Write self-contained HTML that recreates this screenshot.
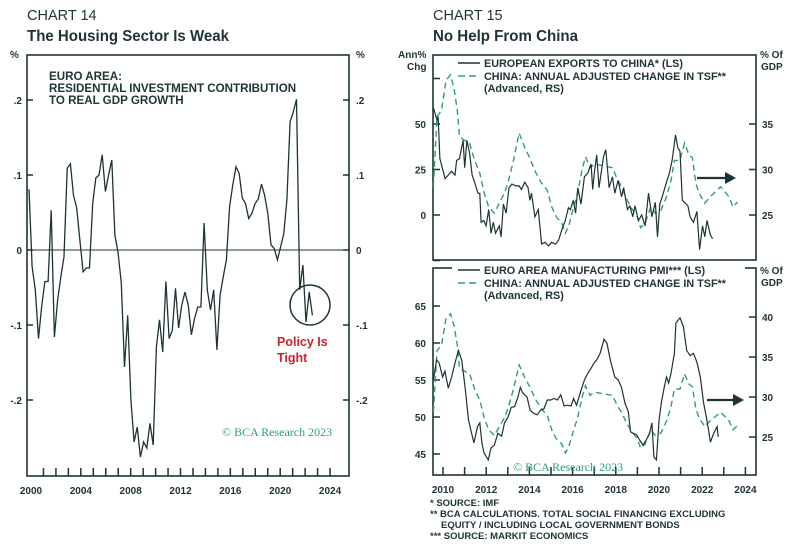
<!DOCTYPE html>
<html><head><meta charset="utf-8"><style>
body{margin:0;background:#fff;width:796px;height:546px;overflow:hidden}
svg{font-family:"Liberation Sans",sans-serif}
.tk{font-size:10px;font-weight:bold;fill:#1d3336}
.lg{font-size:10.8px;font-weight:bold;fill:#1d3336}
.an{font-size:11.6px;font-weight:bold;fill:#1d3336}
</style></head><body>
<svg id="c" width="796" height="546" viewBox="0 0 796 546">
<text x="27" y="20" font-size="14.5" fill="#1d3336">CHART 14</text>
<text x="27" y="41" font-size="16" font-weight="bold" fill="#1d3336" textLength="202" lengthAdjust="spacingAndGlyphs">The Housing Sector Is Weak</text>
<text x="433" y="20" font-size="14.5" fill="#1d3336">CHART 15</text>
<text x="433" y="41" font-size="16" font-weight="bold" fill="#1d3336" textLength="145" lengthAdjust="spacingAndGlyphs">No Help From China</text>
<g id="L"></g><g id="R1"></g><g id="R2"></g>
<text x="49" y="80" class="an">EURO AREA:</text>
<text x="49" y="92" class="an">RESIDENTIAL INVESTMENT CONTRIBUTION</text>
<text x="49" y="104" class="an">TO REAL GDP GROWTH</text>
<circle cx="310" cy="305" r="20" fill="none" stroke="#1d3336" stroke-width="1.5"/>
<text x="277" y="346" font-size="12.5" font-weight="bold" fill="#c8252f">Policy Is</text>
<text x="277" y="362" font-size="12.5" font-weight="bold" fill="#c8252f">Tight</text>
<text x="222" y="436" font-size="12" font-family="Liberation Serif,serif" fill="#2e9e7a">© BCA Research 2023</text>
<text x="513" y="471" font-size="12" font-family="Liberation Serif,serif" fill="#2e9e7a">© BCA Research 2023</text>
<text x="430" y="506" font-size="9.5" font-weight="bold" fill="#1d3336">*  SOURCE: IMF</text>
<text x="430" y="517" font-size="9.5" font-weight="bold" fill="#1d3336">** BCA CALCULATIONS. TOTAL SOCIAL FINANCING EXCLUDING</text>
<text x="441" y="528" font-size="9.5" font-weight="bold" fill="#1d3336">EQUITY / INCLUDING LOCAL GOVERNMENT BONDS</text>
<text x="430" y="539" font-size="9.5" font-weight="bold" fill="#1d3336">*** SOURCE: MARKIT ECONOMICS</text>
</svg>
<script>
const resInv=[0.081,-0.022,-0.053,-0.118,-0.075,-0.042,-0.042,0.053,-0.116,-0.067,-0.036,-0.009,0.109,0.115,0.073,0.056,0.013,-0.029,-0.024,-0.024,0.062,0.096,0.1,0.127,0.078,0.1,0.12,0.02,-0.004,-0.044,-0.156,-0.087,-0.2,-0.256,-0.236,-0.276,-0.256,-0.264,-0.231,-0.26,-0.129,-0.093,-0.136,-0.042,-0.118,-0.107,-0.051,-0.104,-0.073,-0.056,-0.073,-0.113,-0.091,-0.076,-0.076,0.036,-0.053,-0.08,-0.053,-0.133,-0.06,-0.036,-0.013,0.058,0.087,0.111,0.102,0.069,0.062,0.042,0.049,0.062,0.068,0.088,0.073,0.049,0.007,0.002,-0.013,0.004,0.022,0.067,0.171,0.184,0.201,-0.053,-0.02,-0.096,-0.056,-0.087];
const leftYTicks=[0.2,0.1,0,-0.1,-0.2];
const leftYLabels=[".2",".1","0","-.1","-.2"];
const leftXLabels=[2000,2004,2008,2012,2016,2020,2024];
const exYears=[2009.84,2010.0,2010.05,2010.13,2010.36,2010.5,2010.65,2010.8,2010.87,2011.0,2011.16,2011.23,2011.33,2011.45,2011.56,2011.67,2011.82,2011.9,2011.96,2012.08,2012.18,2012.3,2012.4,2012.5,2012.6,2012.77,2012.85,2012.95,2013.07,2013.2,2013.33,2013.5,2013.65,2013.75,2013.9,2014.05,2014.13,2014.2,2014.35,2014.5,2014.65,2014.8,2014.96,2015.1,2015.26,2015.4,2015.55,2015.7,2015.84,2015.93,2016.06,2016.16,2016.26,2016.4,2016.55,2016.7,2016.85,2016.92,2017.0,2017.1,2017.2,2017.4,2017.5,2017.65,2017.8,2017.9,2018.05,2018.2,2018.3,2018.46,2018.57,2018.7,2018.8,2018.95,2019.1,2019.25,2019.4,2019.55,2019.7,2019.8,2019.9,2020.06,2020.2,2020.33,2020.45,2020.6,2020.7,2020.8,2020.9,2021.0,2021.15,2021.25,2021.4,2021.55,2021.67,2021.8,2021.9,2022.0,2022.15,2022.25];
const exVals=[59,52,54,31,20,22,24,22,30,31,41,26,41,34,22,18,12,12,-4,-3,-6,3,-10,-4,-10,-6,-12,6,1,15,17,16,16,14,18,15,8,12,-1,3,-16,-15,-17,-15,-16,-14,-8,-3,4,3,8,1,15,6,21,23,28,14,24,33,15,32,36,15,21,12,19,10,15,3,5,-1,5,-3,0,-6,12,-1,7,-12,6,12,18,23,30,44,37,35,8,7,5,-1,-4,2,-19,-6,-12,-3,-11,-13];
const tsfYears=[2009.84,2010.0,2010.2,2010.4,2010.6,2010.75,2010.9,2011.0,2011.23,2011.45,2011.67,2011.9,2012.1,2012.3,2012.55,2012.77,2013.0,2013.2,2013.4,2013.65,2013.9,2014.1,2014.4,2014.65,2014.9,2015.1,2015.3,2015.55,2015.7,2015.85,2016.0,2016.25,2016.45,2016.6,2016.8,2017.0,2017.4,2017.8,2018.0,2018.2,2018.4,2018.6,2018.9,2019.05,2019.25,2019.5,2019.7,2019.95,2020.2,2020.4,2020.55,2020.8,2021.0,2021.2,2021.35,2021.5,2021.65,2021.9,2022.1,2022.35,2022.6,2022.85,2023.0,2023.15,2023.35];
const tsfVals=[28.1,35.8,36.5,39.8,40.4,39,36.5,33.6,33.2,32.9,31,29.6,27.4,25.9,25.2,26.3,27.4,29,31,34,32.4,31.4,29.6,28.5,27.7,25.9,24.8,24.1,23,23.7,25.2,27.4,30,31.4,30.2,30.6,30.4,30.2,29,28.1,26.9,25.9,24.8,23.6,24.1,25.9,25.2,25.5,27,28.8,31,31,32.9,31.6,31.3,28.5,27.4,26.3,26.9,27.5,28.1,27.4,26.9,25.9,26.4];
const pmiYears=[2009.84,2009.98,2010.1,2010.25,2010.35,2010.5,2010.65,2010.8,2010.95,2011.1,2011.25,2011.4,2011.54,2011.64,2011.8,2011.9,2012.0,2012.1,2012.28,2012.4,2012.55,2012.7,2012.87,2013.0,2013.16,2013.3,2013.45,2013.6,2013.7,2013.8,2014.0,2014.14,2014.3,2014.45,2014.6,2014.75,2014.9,2015.05,2015.2,2015.35,2015.5,2015.65,2015.8,2015.96,2016.07,2016.2,2016.4,2016.55,2016.7,2016.85,2017.0,2017.1,2017.25,2017.42,2017.55,2017.7,2017.9,2018.06,2018.2,2018.35,2018.5,2018.6,2018.72,2018.87,2019.0,2019.16,2019.3,2019.45,2019.55,2019.64,2019.75,2019.87,2019.97,2020.1,2020.2,2020.3,2020.4,2020.55,2020.62,2020.8,2020.95,2021.1,2021.25,2021.4,2021.55,2021.7,2021.85,2021.97,2022.07,2022.15,2022.3,2022.45,2022.5];
const pmiVals=[55,57.7,57.3,55.4,56.2,53.9,55.4,57.3,59,57.7,54,49.6,47.8,46.5,48.7,49.2,46.4,45.1,44.2,45.8,46.2,47.8,47.4,49.2,50,51.3,51.4,52.7,54,53.3,52.7,50.9,50.5,50.3,50.9,51.1,52.3,52.3,52.5,52.3,53,51.5,51.6,51.5,52.5,51.6,53.6,55,55.9,56.6,57.4,57.7,58.6,60.5,60,57.7,55.4,55,54,51.9,50.7,48,47.8,47.6,46.9,46.2,46.9,47.8,49.2,44.6,44.2,49.6,51.9,54,55.4,54.6,55.9,58.6,62.7,63.4,62.2,59,58.3,58.6,57.4,55.4,51.9,50,48.2,46.6,47.8,48.7,47.3];
const r1Left=[75,50,25,0,-25], r1Labels=["","50","25","0",""], r1Right=[35,30,25];
const r2Left=[65,60,55,50,45], r2Right=[40,35,30,25];
const rightXLabels=[2010,2012,2014,2016,2018,2020,2022,2024];

const NS="http://www.w3.org/2000/svg", INK="#1d3336", GRN="#2e9e7a";
function mk(p,tag,a){const e=document.createElementNS(NS,tag);for(const k in a)e.setAttribute(k,a[k]);p.appendChild(e);return e;}
function path(xs,ys){return xs.map((x,i)=>(i?"L":"M")+x.toFixed(1)+","+ys[i].toFixed(1)).join("");}

// LEFT CHART
const L=document.getElementById("L");
const lx=y=>27+(y-2000)*13, lxl=y=>31+(y-2000)*12.46, ly=v=>250-v*750;
let f=mk(L,"rect",{x:27,y:55,width:322,height:421,fill:"none",stroke:INK,"stroke-width":1.6});

let z=mk(L,"line",{x1:27,x2:349,y1:ly(0),y2:ly(0),stroke:INK,"stroke-width":1});

leftYTicks.forEach((v,i)=>{
  let t=mk(L,"line",{x1:27,x2:33,y1:ly(v),y2:ly(v),stroke:INK,"stroke-width":1.5});
  
  let t2=mk(L,"line",{x1:343,x2:349,y1:ly(v),y2:ly(v),stroke:INK,"stroke-width":1.5});
  
  let a=mk(L,"text",{x:22,y:ly(v)+4,"text-anchor":"end",class:"tk"});a.textContent=leftYLabels[i];
  
  let b=mk(L,"text",{x:356,y:ly(v)+4,class:"tk"});b.textContent=leftYLabels[i];
  
});
for(let y=2001;y<=2024;y++){let t=mk(L,"line",{x1:lxl(y),x2:lxl(y),y1:468,y2:476,stroke:INK,"stroke-width":1.5});
  }
leftXLabels.forEach(y=>{let a=mk(L,"text",{x:lxl(y),y:494,"text-anchor":"middle",class:"tk"});a.textContent=y;
  });
let pl=mk(L,"text",{x:10,y:58,class:"tk"});pl.textContent="%";
let pr=mk(L,"text",{x:356,y:58,class:"tk"});pr.textContent="%";
const lDates=resInv.map((v,i)=>2000.15+i*0.245);
let ln=mk(L,"path",{d:path(lDates.map(lx),resInv.map(ly)),fill:"none",stroke:INK,"stroke-width":1.3});


// RIGHT CHARTS
const rx=y=>437+(y-2010)*22.5, rxl=y=>443+(y-2010)*21.6;
function panel(g,top,bot,lyf,ryf,lt,ll,rt,name){
  let fr=mk(g,"rect",{x:433,y:top,width:323,height:bot-top,fill:"none",stroke:INK,"stroke-width":1.6});
  
  lt.forEach((v,i)=>{let t=mk(g,"line",{x1:433,x2:440,y1:lyf(v),y2:lyf(v),stroke:INK,"stroke-width":1.5});
    
    let a=mk(g,"text",{x:426,y:lyf(v)+4,"text-anchor":"end",class:"tk"});a.textContent=ll[i];
    });
  rt.forEach(v=>{let t=mk(g,"line",{x1:749,x2:756,y1:ryf(v),y2:ryf(v),stroke:INK,"stroke-width":1.5});
    
    let a=mk(g,"text",{x:762,y:ryf(v)+4,class:"tk"});a.textContent=v;
    });
}
function legend(g,y0,t1,name,mask){
  if(mask){let w=mk(g,"rect",{x:452,y:y0-8,width:293,height:14,fill:"#fff"});}
  let a=mk(g,"line",{x1:458,x2:480,y1:y0,y2:y0,stroke:INK,"stroke-width":1.5});
  let b=mk(g,"line",{x1:458,x2:480,y1:y0+13,y2:y0+13,stroke:GRN,"stroke-width":1.5,"stroke-dasharray":"7,4"});
  [[t1,y0+4],["CHINA: ANNUAL ADJUSTED CHANGE IN TSF**",y0+17],["(Advanced, RS)",y0+29]].forEach(([s,y])=>{
    let t=mk(g,"text",{x:484,y:y,class:"lg"});t.textContent=s;});
}
function arrow(g,x1,x2,y,name){let a=mk(g,"line",{x1:x1,x2:x2-8,y1:y,y2:y,stroke:INK,"stroke-width":2.2});
  
  let h=mk(g,"polygon",{points:`${x2},${y} ${x2-11},${y-6} ${x2-11},${y+6}`,fill:INK});
  }
function units(g,y,name){
  if(name==='top')[["Ann%",398,y],["Chg",407,y+12]].forEach(([s,x,yy])=>{let t=mk(g,"text",{x:x,y:yy,class:"tk"});t.textContent=s;});
  [["% Of",760,y],["GDP",761,y+12]].forEach(([s,x,yy])=>{let t=mk(g,"text",{x:x,y:yy,class:"tk"});t.textContent=s;});
}
// top
const R1=document.getElementById("R1");
const y1L=v=>215-v*1.82, y1R=v=>215-(v-25)*9.1;
panel(R1,55,260,y1L,y1R,r1Left,r1Labels,r1Right,"top");
let d1=mk(R1,"path",{d:path(tsfYears.map(rx),tsfVals.map(y1R)),fill:"none",stroke:GRN,"stroke-width":1.4,"stroke-dasharray":"6,4"});

let s1=mk(R1,"path",{d:path(exYears.map(rx),exVals.map(y1L)),fill:"none",stroke:INK,"stroke-width":1.2});

legend(R1,63,"EUROPEAN EXPORTS TO CHINA* (LS)","top",false);
arrow(R1,697,736,178,"top");units(R1,58,"top");
// bottom
const R2=document.getElementById("R2");
const y2L=v=>454-(v-45)*7.4, y2R=v=>437-(v-25)*8.0;
panel(R2,268,475,y2L,y2R,r2Left,r2Left,r2Right,"bottom");
let d2=mk(R2,"path",{d:path(tsfYears.map(rx),tsfVals.map(y2R)),fill:"none",stroke:GRN,"stroke-width":1.4,"stroke-dasharray":"6,4"});

let s2=mk(R2,"path",{d:path(pmiYears.map(rx),pmiVals.map(y2L)),fill:"none",stroke:INK,"stroke-width":1.2});

legend(R2,270,"EURO AREA MANUFACTURING PMI*** (LS)","bottom",true);
arrow(R2,707,744,400,"bottom");units(R2,274,"bottom");
for(let y=2010;y<=2024;y++){let t=mk(R2,"line",{x1:rxl(y),x2:rxl(y),y1:467,y2:475,stroke:INK,"stroke-width":1.5});
  }
rightXLabels.forEach(y=>{let a=mk(R2,"text",{x:rxl(y),y:493,"text-anchor":"middle",class:"tk"});a.textContent=y;
  });
</script>
</body></html>
